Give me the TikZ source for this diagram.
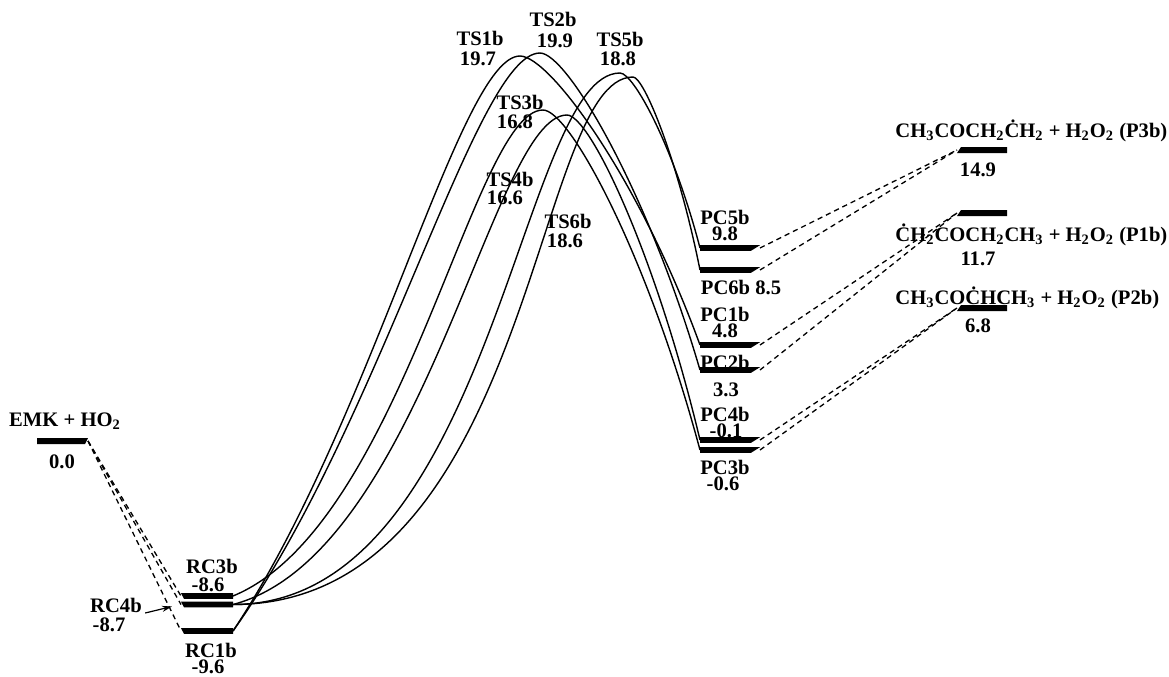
\documentclass[tikz,border=0pt]{standalone}
\usepackage{fontspec}
\setmainfont{Liberation Serif}
\usetikzlibrary{arrows.meta}
\newcommand{\sbs}[1]{\textsubscript{#1}}
\begin{document}
\begin{tikzpicture}[x=0.5pt,y=-0.5pt,
  font=\fontsize{10.3}{12}\selectfont\bfseries,
  lbl/.style={inner sep=0pt,anchor=center},
  curve/.style={line width=0.7pt},
  dsh/.style={line width=0.65pt,dash pattern=on 2.6pt off 2pt},
  barfill/.style={fill=black}]
\useasboundingbox (0,0) rectangle (1169,676);
% level coordinates
\coordinate (emkL) at (37,441);  \coordinate (emkR) at (88,441);
\coordinate (rc3L) at (181,596); \coordinate (rc3R) at (233,596);
\coordinate (rc4L) at (181,604.5); \coordinate (rc4R) at (233,604.5);
\coordinate (rc1L) at (181,631); \coordinate (rc1R) at (233,631);
\coordinate (ts1) at (520,56);  \coordinate (ts2) at (540,53);
\coordinate (ts3) at (543,110); \coordinate (ts4) at (567,115);
\coordinate (ts5) at (620,73);  \coordinate (ts6) at (633,77);
\coordinate (pc5L) at (700,248); \coordinate (pc5R) at (760,248);
\coordinate (pc6L) at (700,270); \coordinate (pc6R) at (760,270);
\coordinate (pc1L) at (700,345); \coordinate (pc1R) at (760,345);
\coordinate (pc2L) at (700,370); \coordinate (pc2R) at (760,370);
\coordinate (pc4L) at (700,440); \coordinate (pc4R) at (760,440);
\coordinate (pc3L) at (700,450); \coordinate (pc3R) at (760,450);
\coordinate (p3L) at (957,150); \coordinate (p3R) at (1007,150);
\coordinate (p1L) at (957,213); \coordinate (p1R) at (1007,213);
\coordinate (p2L) at (957,308); \coordinate (p2R) at (1007,308);
\coordinate (rc4tip) at (172,606.5);
% bars
\fill[barfill] (emkL) ++(0,-3) -- ++(51,0) -- ++(-3,6) -- ++(-48,0) -- cycle;
\foreach \c in {rc3L,rc4L,rc1L}
  \fill[barfill] (\c) ++(0,-2.8) -- ++(52,0) -- ++(0,5.6) -- ++(-49,0) -- cycle;
\foreach \c in {pc5L,pc6L,pc1L,pc2L,pc4L,pc3L}
  \fill[barfill] (\c) ++(0,-2.8) -- ++(60,0) -- ++(-9,5.6) -- ++(-51,0) -- cycle;
\foreach \c in {p3L,p1L,p2L}
  \fill[barfill] (\c) ++(4,-3) -- ++(46,0) -- ++(0,6) -- ++(-50,0) -- cycle;
% dashed connectors
\draw[dsh] (emkR) -- (rc3L);
\draw[dsh] (emkR) -- (rc4L);
\draw[dsh] (emkR) -- (rc1L);
\draw[dsh] (pc5R) -- (p3L);
\draw[dsh] (pc6R) -- (p3L);
\draw[dsh] (pc1R) -- (p1L);
\draw[dsh] (pc2R) -- (p1L);
\draw[dsh] (pc4R) -- (p2L);
\draw[dsh] (pc3R) -- (p2L);
% reaction paths
\draw[curve] (rc1R) .. controls +(140,-210) and +(-60,0) .. (ts1)
  .. controls +(30,0) and +(-60,-165) .. (pc1L);
\draw[curve] (rc1R) .. controls +(150,-211) and +(-64,0) .. (ts2)
  .. controls +(27,0) and +(-53,-181) .. (pc2L);
\draw[curve] (rc3R) .. controls +(170,-70) and +(-70,0) .. (ts3)
  .. controls +(27,0) and +(-52,-194) .. (pc3L);
\draw[curve] (rc4R) .. controls +(190,-50) and +(-75,0) .. (ts4)
  .. controls +(23,0) and +(-44,-185) .. (pc4L);
\draw[curve] (rc4R) .. controls +(260,0) and +(-100,0) .. (ts5)
  .. controls +(14,0) and +(-26,-100) .. (pc5L);
\draw[curve] (rc4R) .. controls +(300,0) and +(-100,0) .. (ts6)
  .. controls +(11,0) and +(-22,-110) .. (pc6L);
% labels
\node[lbl] (emklab) at (65,421) {EMK + HO\sbs{2}};
\node[lbl] (emkval) at (62,462) {0.0};
\node[lbl] (rc3lab) at (212,566) {RC3b};
\node[lbl] (rc3val) at (208,585) {-8.6};
\node[lbl] (rc4lab) at (116,605) {RC4b};
\node[lbl] (rc4val) at (109,625) {-8.7};
\node[lbl] (rc1lab) at (211,650) {RC1b};
\node[lbl] (rc1val) at (208,667) {-9.6};
\draw[line width=0.6pt,-{Stealth[length=5pt,width=3pt]}] (rc4lab.east) ++(3,8) -- (rc4tip);
\node[lbl] (ts1lab) at (480,38) {TS1b};
\node[lbl] (ts1val) at (478,59) {19.7};
\node[lbl] (ts2lab) at (553,19) {TS2b};
\node[lbl] (ts2val) at (555,41) {19.9};
\node[lbl] (ts5lab) at (620,39) {TS5b};
\node[lbl] (ts5val) at (618,59) {18.8};
\node[lbl] (ts3lab) at (520,102) {TS3b};
\node[lbl] (ts3val) at (515,122) {16.8};
\node[lbl] (ts4lab) at (510,179) {TS4b};
\node[lbl] (ts4val) at (505,198) {16.6};
\node[lbl] (ts6lab) at (568,221) {TS6b};
\node[lbl] (ts6val) at (565,241) {18.6};
\node[lbl] (pc5lab) at (725,217) {PC5b};
\node[lbl] (pc5val) at (725,234) {9.8};
\node[lbl] (pc6lab) at (741,287) {PC6b 8.5};
\node[lbl] (pc1lab) at (725,314) {PC1b};
\node[lbl] (pc1val) at (725,331) {4.8};
\node[lbl] (pc2lab) at (725,362) {PC2b};
\node[lbl] (pc2val) at (726,390) {3.3};
\node[lbl] (pc4lab) at (725,414) {PC4b};
\node[lbl] (pc4val) at (726,431) {-0.1};
\node[lbl] (pc3lab) at (725,467) {PC3b};
\node[lbl] (pc3val) at (723,484) {-0.6};
\node[lbl,anchor=west] (p3lab) at (895,131) {CH\sbs{3}COCH\sbs{2}ĊH\sbs{2} + H\sbs{2}O\sbs{2} (P3b)};
\node[lbl] (p3val) at (978,170) {14.9};
\node[lbl,anchor=west] (p1lab) at (895,235) {ĊH\sbs{2}COCH\sbs{2}CH\sbs{3} + H\sbs{2}O\sbs{2} (P1b)};
\node[lbl] (p1val) at (978,259) {11.7};
\node[lbl,anchor=west] (p2lab) at (895,298) {CH\sbs{3}COĊHCH\sbs{3} + H\sbs{2}O\sbs{2} (P2b)};
\node[lbl] (p2val) at (978,326) {6.8};
\end{tikzpicture}
\end{document}
